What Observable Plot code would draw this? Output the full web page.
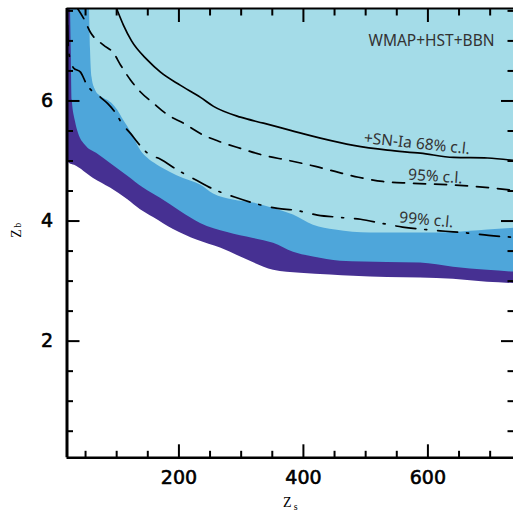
<!DOCTYPE html>
<html><head><meta charset="utf-8">
<script src="https://cdn.jsdelivr.net/npm/d3@7"></script>
<script src="https://cdn.jsdelivr.net/npm/@observablehq/plot@0.6"></script>
<style>html,body{margin:0;padding:0;background:#fff;overflow:hidden}</style>
</head><body><div id="chart"></div>
<script>
const xDomain = [20.2, 737.5];
const yDomain = [0.057, 7.54];
const xMajor = [200, 400, 600];
const xMinor = [50, 100, 150, 250, 300, 350, 450, 500, 550, 650, 700];
const yMajor = [2, 4, 6];
const yMinor = [0.5, 1, 1.5, 2.5, 3, 3.5, 4.5, 5, 5.5, 6.5, 7, 7.5];

// WMAP+HST+BBN regions: lower boundary z_b(z_s)
const outerZs = [20.2, 24.3, 32.3, 62.8, 90.1, 117.4, 138.3, 159.2, 191.3, 229.9, 266.8, 310.2, 352.0, 395.3, 443.5, 480.5, 535.1, 588.1, 641.1, 695.8, 737.5];
const outerZb = [5.01, 4.96, 4.93, 4.71, 4.55, 4.36, 4.19, 4.06, 3.86, 3.68, 3.55, 3.35, 3.18, 3.13, 3.10, 3.08, 3.06, 3.05, 3.03, 2.98, 2.96];

const midZs = [25.9, 27.0, 28.6, 33.9, 38.7, 50.0, 67.6, 90.1, 117.4, 143.1, 170.4, 202.6, 234.7, 278.1, 319.8, 352.0, 384.1, 416.2, 459.6, 535.1, 588.1, 641.1, 695.8, 737.5];
const midZb = [7.54, 6.85, 6.01, 5.65, 5.46, 5.26, 5.13, 4.96, 4.75, 4.55, 4.38, 4.16, 3.96, 3.81, 3.71, 3.63, 3.48, 3.40, 3.33, 3.31, 3.30, 3.23, 3.18, 3.15];

const innerZs = [56.4, 58.0, 60.4, 66.0, 74.1, 85.3, 93.3, 101.4, 109.4, 117.4, 127.1, 138.3, 149.6, 165.6, 186.5, 207.4, 234.7, 255.6, 287.6, 319.8, 352.0, 384.1, 416.2, 451.6, 507.8, 588.1, 641.1, 695.8, 737.5];
const innerZb = [7.54, 6.85, 6.39, 6.18, 6.08, 6.01, 5.95, 5.85, 5.71, 5.58, 5.40, 5.18, 5.05, 4.93, 4.81, 4.71, 4.60, 4.45, 4.35, 4.30, 4.21, 4.10, 3.93, 3.85, 3.80, 3.80, 3.81, 3.85, 3.88];

// +SN-Ia contours
const cl68Zs = [99.8, 111.0, 123.9, 149.6, 170.4, 202.6, 234.7, 255.6, 298.9, 335.9, 379.3, 427.3, 480.5, 535.1, 588.1, 641.1, 695.8, 737.5];
const cl68Zb = [7.54, 7.26, 7.00, 6.68, 6.48, 6.26, 6.06, 5.91, 5.73, 5.63, 5.51, 5.38, 5.26, 5.18, 5.13, 5.06, 5.05, 5.01];

const cl95Zs = [37.1, 46.7, 58.0, 78.9, 94.9, 106.2, 122.2, 138.3, 159.2, 183.3, 207.4, 239.5, 263.6, 298.9, 334.3, 376.1, 419.4, 456.4, 488.5, 527.1, 572.0, 641.1, 703.8, 737.5];
const cl95Zb = [7.54, 7.38, 7.14, 6.93, 6.80, 6.60, 6.35, 6.15, 5.96, 5.76, 5.63, 5.43, 5.33, 5.21, 5.10, 5.01, 4.91, 4.81, 4.73, 4.66, 4.63, 4.60, 4.55, 4.51];

const cl99Zs = [21.0, 22.7, 25.9, 30.7, 41.9, 51.6, 74.1, 85.3, 98.2, 109.4, 122.2, 133.5, 149.6, 170.4, 197.8, 228.3, 255.6, 289.3, 319.8, 358.4, 387.3, 422.6, 459.6, 491.7, 527.1, 559.2, 594.5, 628.3, 663.6, 697.4, 737.5];
const cl99Zb = [7.26, 6.85, 6.68, 6.55, 6.48, 6.28, 6.06, 5.96, 5.80, 5.61, 5.46, 5.31, 5.13, 5.03, 4.85, 4.68, 4.53, 4.40, 4.30, 4.21, 4.18, 4.10, 4.06, 4.03, 3.96, 3.90, 3.86, 3.83, 3.80, 3.76, 3.73];

const noteText = ["+SN-Ia 68% c.l.", "95% c.l.", "99% c.l."];
const noteZs = [496.6, 567.7, 553.3];
const noteZb = [5.30, 4.69, 3.98];
const noteAngle = [6, 4, 5.5];

const rows = (xs, ys) => xs.map((x, i) => ({x, y: ys[i]}));
const notes = noteText.map((t, i) => ({t, x: noteZs[i], y: noteZb[i], r: noteAngle[i]}));

const tickFont = "DejaVu Sans";
const serif = "Liberation Serif";
const txtFont = "Noto Sans";

const area = (xs, ys, fill) => Plot.areaY(rows(xs, ys), {x: "x", y1: "y", y2: yDomain[1], fill, curve: "monotone-x", clip: true});
const line = (xs, ys, dash) => Plot.line(rows(xs, ys), {x: "x", y: "y", stroke: "#000", strokeWidth: 1.7, strokeDasharray: dash, curve: "monotone-x", clip: true});
const noText = {fill: "none", label: null, strokeWidth: 2};

const chart = Plot.plot({
  width: 513,
  height: 512,
  marginLeft: 66.5,
  marginRight: 0,
  marginTop: 8,
  marginBottom: 54.7,
  x: {domain: xDomain},
  y: {domain: yDomain},
  style: {background: "#fff", overflow: "visible"},
  marks: [
    area(outerZs, outerZb, "#463092"),
    area(midZs, midZb, "#4ea6da"),
    area(innerZs, innerZb, "#a4dce8"),
    line(cl68Zs, cl68Zb, null),
    line(cl95Zs, cl95Zb, "12,9"),
    line(cl99Zs, cl99Zb, "20,9,2,11"),
    Plot.text(["WMAP+HST+BBN"], {text: d => d, x: 707, y: 6.92, textAnchor: "end", lineAnchor: "bottom", fontFamily: txtFont, fontSize: 15.5, fill: "#333"}),
    Plot.text(notes, {text: "t", x: "x", y: "y", rotate: "r", textAnchor: "start", lineAnchor: "bottom", fontFamily: txtFont, fontSize: 15.5, fill: "#333"}),
    // inward ticks on all four sides (shifted inside the frame)
    Plot.axisX(xMajor, {anchor: "bottom", tickSize: 13, dy: -13, ...noText}),
    Plot.axisX(xMinor, {anchor: "bottom", tickSize: 6.5, dy: -6.5, ...noText}),
    Plot.axisX(xMajor, {anchor: "top", tickSize: 13, dy: 13, ...noText}),
    Plot.axisX(xMinor, {anchor: "top", tickSize: 6.5, dy: 6.5, ...noText}),
    Plot.axisY(yMajor, {anchor: "left", tickSize: 13, dx: 13, ...noText}),
    Plot.axisY(yMinor, {anchor: "left", tickSize: 6.5, dx: 6.5, ...noText}),
    Plot.axisY(yMajor, {anchor: "right", tickSize: 13, dx: -13, ...noText}),
    Plot.axisY(yMinor, {anchor: "right", tickSize: 6.5, dx: -6.5, ...noText}),
    // tick labels
    Plot.axisX(xMajor, {anchor: "bottom", tickSize: 0, tickPadding: 12.2, tickFormat: d => String(d), fontFamily: tickFont, fontSize: 19, fill: "#000", textStroke: "#000", textStrokeWidth: 0.6, label: null}),
    Plot.axisY(yMajor, {anchor: "left", tickSize: 0, tickPadding: 13.8, tickFormat: d => String(d), fontFamily: tickFont, fontSize: 19, fill: "#000", textStroke: "#000", textStrokeWidth: 0.6, label: null}),
    // frame lines
    Plot.ruleX([xDomain[0]], {stroke: "#000", strokeWidth: 3}),
    Plot.ruleY([yDomain[0]], {stroke: "#000", strokeWidth: 2.6}),
    Plot.ruleY([yDomain[1]], {stroke: "#000", strokeWidth: 2.2}),
    // axis titles
    Plot.text(["Z"], {text: d => d, frameAnchor: "bottom", dx: -3, dy: 49, lineAnchor: "bottom", fontFamily: serif, fontSize: 14, fill: "#000"}),
    Plot.text(["s"], {text: d => d, frameAnchor: "bottom", dx: 5.5, dy: 52, lineAnchor: "bottom", fontFamily: serif, fontSize: 10, fill: "#000"}),
    Plot.text(["Z"], {text: d => d, frameAnchor: "left", dx: -46.5, dy: 4.7, rotate: -90, lineAnchor: "bottom", fontFamily: serif, fontSize: 14, fill: "#000"}),
    Plot.text(["b"], {text: d => d, frameAnchor: "left", dx: -45.8, dy: -5.5, rotate: -90, lineAnchor: "bottom", fontFamily: serif, fontSize: 10, fill: "#000"})
  ]
});
document.getElementById("chart").appendChild(chart);
</script>
</body></html>
